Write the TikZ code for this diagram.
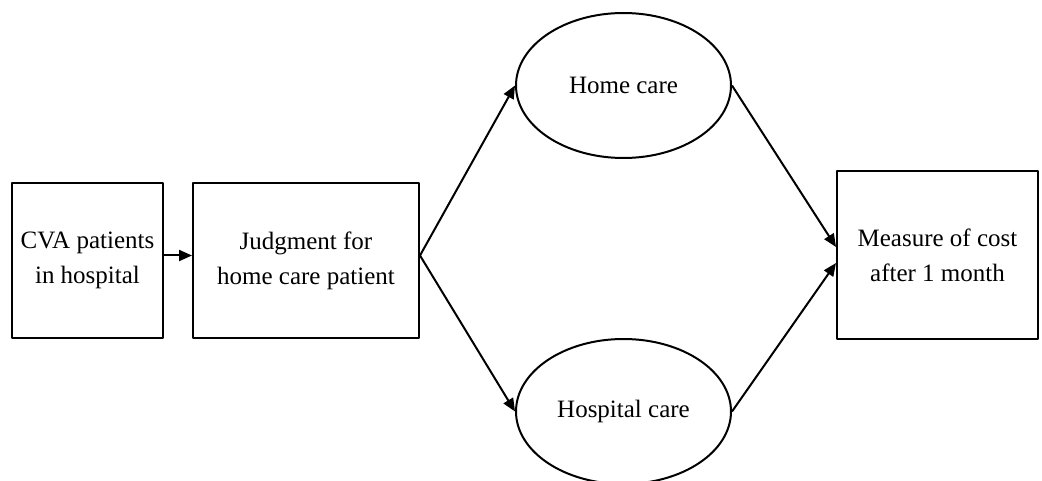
\documentclass[tikz,border=0pt]{standalone}
\usepackage{fontspec}
\setmainfont{Liberation Serif}
\usetikzlibrary{arrows.meta,shapes.geometric}
\begin{document}
\begin{tikzpicture}[x=1pt, y=-1pt, line width=2pt, line join=round, >={Triangle[length=13pt,width=11pt]},
	font=\fontsize{25}{35}\selectfont,
	box/.style={draw, rectangle, inner sep=0pt, align=center},
	oval/.style={draw, ellipse, inner sep=0pt, minimum width=215pt, minimum height=145pt}]
				\useasboundingbox (0,0) rectangle (1042,481);
				\node[box, minimum width=151pt, minimum height=155pt] (cva) at (87.5,260.5) {CVA patients\\in hospital};
				\node[box, minimum width=226pt, minimum height=155pt] (judge) at (306,260.5) {Judgment for\\home care patient};
				\node[oval] (home) at (623.5,85.5) {Home care};
				\node[oval] (hosp) at (623.5,411.5) {Hospital care};
				\node[box, minimum width=201pt, minimum height=168pt] (cost) at (937.5,255) {Measure of cost\\after 1 month};
				\draw[->] ([yshift=5pt]cva.east) -- ([yshift=5pt]judge.west);
				\draw[->] ([yshift=5pt]judge.east) -- (home.west);
				\draw[->] ([yshift=5pt]judge.east) -- (hosp.west);
				\draw[->] (home.east) -- ([yshift=8pt]cost.west);
				\draw[->] (hosp.east) -- ([yshift=-8pt]cost.west);
			\end{tikzpicture}
\end{document}
